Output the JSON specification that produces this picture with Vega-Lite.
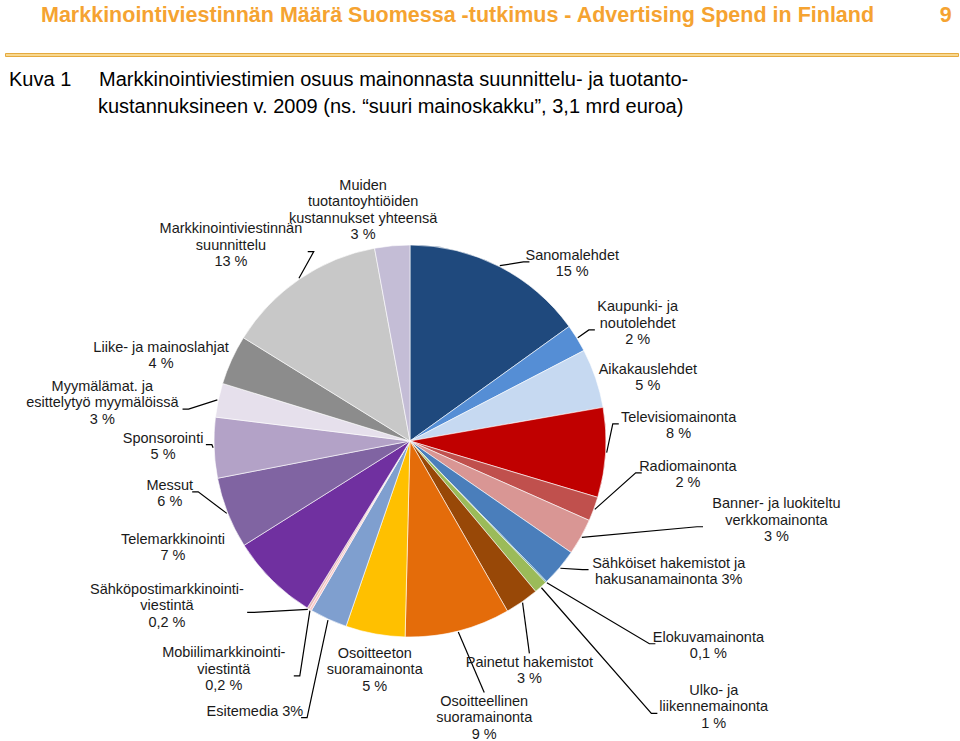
{
  "$schema": "https://vega.github.io/schema/vega-lite/v6.json",
  "padding": {"left": 4, "top": 4, "right": 0, "bottom": 0},
  "background": "white",
  "config": {"view": {"stroke": null}, "concat": {"spacing": 10}},
  "vconcat": [
    {
      "width": 953,
      "height": 3,
      "view": {"stroke": "#E5AA40", "strokeWidth": 1, "fill": "#F8D890"},
      "title": {
        "text": "Markkinointiviestinnän Määrä Suomessa -tutkimus - Advertising Spend in Finland\u00a0\u00a0\u00a0\u00a0\u00a0\u00a0\u00a0\u00a0\u00a0\u00a0\u00a09",
        "anchor": "start", "frame": "group", "dx": 36,
        "font": "Liberation Sans", "fontSize": 21.5, "fontWeight": "bold",
        "color": "#F5A331", "offset": 22
      },
      "data": {"values": [{}]},
      "mark": {"type": "text", "text": " "},
      "encoding": {}
    },
    {
      "width": 810,
      "height": 600,
      "title": {
        "text": [
          "Kuva 1\u00a0\u00a0\u00a0\u00a0 Markkinointiviestimien osuus mainonnasta suunnittelu- ja tuotanto-",
          "\u200b\u00a0\u00a0\u00a0\u00a0\u00a0\u00a0\u00a0\u00a0\u00a0\u00a0\u00a0\u00a0\u00a0\u00a0\u00a0\u00a0kustannuksineen v. 2009 (ns. “suuri mainoskakku”, 3,1 mrd euroa)"
        ],
        "anchor": "start", "frame": "group", "dx": 4,
        "font": "Liberation Sans", "fontSize": 20, "fontWeight": "normal",
        "color": "#000000", "lineHeight": 27, "offset": 24
      },
      "data": {
        "values": [
          {"cat": "Sanomalehdet", "label": "Sanomalehdet\n15 %", "value": 15.1},
          {"cat": "Kaupunki- ja noutolehdet", "label": "Kaupunki- ja\nnoutolehdet\n2 %", "value": 2.3},
          {"cat": "Aikakauslehdet", "label": "Aikakauslehdet\n5 %", "value": 4.9},
          {"cat": "Televisiomainonta", "label": "Televisiomainonta\n8 %", "value": 7.4},
          {"cat": "Radiomainonta", "label": "Radiomainonta\n2 %", "value": 2.0},
          {"cat": "Banner- ja luokiteltu verkkomainonta", "label": "Banner- ja luokiteltu\nverkkomainonta\n3 %", "value": 3.0},
          {"cat": "Sähköiset hakemistot ja hakusanamainonta", "label": "Sähköiset hakemistot ja\nhakusanamainonta 3%", "value": 3.1},
          {"cat": "Elokuvamainonta", "label": "Elokuvamainonta\n0,1 %", "value": 0.1},
          {"cat": "Ulko- ja liikennemainonta", "label": "Ulko- ja\nliikennemainonta\n1 %", "value": 1.1},
          {"cat": "Painetut hakemistot", "label": "Painetut hakemistot\n3 %", "value": 2.8},
          {"cat": "Osoitteellinen suoramainonta", "label": "Osoitteellinen\nsuoramainonta\n9 %", "value": 8.7},
          {"cat": "Osoitteeton suoramainonta", "label": "Osoitteeton\nsuoramainonta\n5 %", "value": 4.9},
          {"cat": "Esitemedia", "label": "Esitemedia 3%", "value": 3.1},
          {"cat": "Mobiilimarkkinointiviestintä", "label": "Mobiilimarkkinointi-\nviestintä\n0,2 %", "value": 0.2},
          {"cat": "Sähköpostimarkkinointiviestintä", "label": "Sähköpostimarkkinointi-\nviestintä\n0,2 %", "value": 0.2},
          {"cat": "Telemarkkinointi", "label": "Telemarkkinointi\n7 %", "value": 7.3},
          {"cat": "Messut", "label": "Messut\n6 %", "value": 5.9},
          {"cat": "Sponsorointi", "label": "Sponsorointi\n5 %", "value": 5.0},
          {"cat": "Myymälämat. ja esittelytyö myymälöissä", "label": "Myymälämat. ja\nesittelytyö myymälöissä\n3 %", "value": 2.8},
          {"cat": "Liike- ja mainoslahjat", "label": "Liike- ja mainoslahjat\n4 %", "value": 4.1},
          {"cat": "Markkinointiviestinnän suunnittelu", "label": "Markkinointiviestinnän\nsuunnittelu\n13 %", "value": 13.3},
          {"cat": "Muiden tuotantoyhtiöiden kustannukset yhteensä", "label": "Muiden\ntuotantoyhtiöiden\nkustannukset yhteensä\n3 %", "value": 2.9}
        ]
      },
      "transform": [
        {"window": [{"op": "row_number", "as": "i"}, {"op": "sum", "field": "value", "as": "cum"}]},
        {"joinaggregate": [{"op": "sum", "field": "value", "as": "tot"}]},
        {"calculate": "2*PI*(datum.cum - datum.value/2)/datum.tot", "as": "mid"},
        {"calculate": "datum.mid + [15.4,4.4,3.9,-6.6,-13.3,-17.0,-13.4,-11.5,-6.9,7.4,-0.8,-1.5,5.2,8.6,24.5,21.0,9.1,0.6,-5.0,-5.6,-8.2,-6.3][datum.i-1]*PI/180", "as": "la"},
        {"calculate": "[240,256,246,269,280,375,290,362,404,259,287,232,312,295,294,260,246,247,310,263,265,235][datum.i-1]", "as": "lr"},
        {"calculate": "split(datum.label, '\\n')", "as": "lines"},
        {"calculate": "length(datum.lines)", "as": "n"},
        {"calculate": "max(length(datum.lines[0]), length(datum.lines[1] || ''), length(datum.lines[2] || ''), length(datum.lines[3] || ''))", "as": "w"},
        {"calculate": "datum.lr*sin(datum.la)", "as": "lx"},
        {"calculate": "datum.lr*cos(datum.la)", "as": "ly"},
        {"calculate": "datum.ly + (datum.n - 1)*8.25", "as": "ty"}
      ],
      "layer": [
        {
          "mark": {"type": "arc", "radius": 196, "stroke": "#ffffff", "strokeWidth": 0.6},
          "encoding": {
            "theta": {"field": "value", "type": "quantitative", "stack": true},
            "order": {"field": "i", "type": "quantitative"},
            "color": {
              "field": "cat", "type": "nominal", "legend": null,
              "scale": {
                "domain": ["Sanomalehdet", "Kaupunki- ja noutolehdet", "Aikakauslehdet", "Televisiomainonta", "Radiomainonta", "Banner- ja luokiteltu verkkomainonta", "Sähköiset hakemistot ja hakusanamainonta", "Elokuvamainonta", "Ulko- ja liikennemainonta", "Painetut hakemistot", "Osoitteellinen suoramainonta", "Osoitteeton suoramainonta", "Esitemedia", "Mobiilimarkkinointiviestintä", "Sähköpostimarkkinointiviestintä", "Telemarkkinointi", "Messut", "Sponsorointi", "Myymälämat. ja esittelytyö myymälöissä", "Liike- ja mainoslahjat", "Markkinointiviestinnän suunnittelu", "Muiden tuotantoyhtiöiden kustannukset yhteensä"],
                "range": ["#1F497D", "#558ED5", "#C6D9F1", "#C00000", "#C0504D", "#D99694", "#4A7EBB", "#31859C", "#9BBB59", "#984807", "#E46C0A", "#FFC000", "#7F9FCF", "#F8C8C8", "#E6B9B8", "#7030A0", "#8064A2", "#B3A2C7", "#E6E0EC", "#8C8C8C", "#C8C8C8", "#C4BDD6"]
              }
            }
          }
        },
        {
          "transform": [
            {"filter": "[1,1,0,1,1,1,1,1,1,1,1,0,1,1,1,0,1,1,1,0,1,0][datum.i-1] == 1"},
            {"calculate": "abs(sin(datum.la)) < 0.47 ? 0 : (sin(datum.la) > 0 ? 1 : -1)", "as": "s"},
            {"calculate": "datum.w*3.4 + 2", "as": "hw"},
            {"calculate": "datum.s == 0 ? datum.lx : datum.lx - datum.s*datum.hw", "as": "ex"},
            {"calculate": "datum.s == 0 ? (datum.ly < 0 ? datum.ly + datum.n*8.25 + 1 : datum.ly - datum.n*8.25 - 1) : datum.ly + (datum.n == 2 ? 8.25 : 0) - 6", "as": "ey"},
            {"calculate": "[[197*sin(datum.mid), 197*cos(datum.mid), 0], [datum.ex - datum.s*6, datum.ey, 1], [datum.ex, datum.ey, 2]]", "as": "pts"},
            {"flatten": ["pts"], "as": ["pt"]},
            {"calculate": "datum.pt[0]", "as": "px"},
            {"calculate": "datum.pt[1]", "as": "py"},
            {"calculate": "datum.pt[2]", "as": "k"}
          ],
          "mark": {"type": "line", "color": "#000000", "strokeWidth": 1.2},
          "encoding": {
            "x": {"field": "px", "type": "quantitative", "scale": {"domain": [-405, 405], "nice": false, "zero": false}, "axis": null},
            "y": {"field": "py", "type": "quantitative", "scale": {"domain": [-300, 300], "nice": false, "zero": false}, "axis": null},
            "detail": {"field": "cat", "type": "nominal"},
            "order": {"field": "k", "type": "quantitative"}
          }
        },
        {
          "mark": {"type": "text", "font": "Liberation Sans", "fontSize": 14.5, "lineBreak": "\n", "lineHeight": 16.5, "align": "center", "baseline": "middle", "color": "#1A1A1A"},
          "encoding": {
            "x": {"field": "lx", "type": "quantitative", "scale": {"domain": [-405, 405], "nice": false, "zero": false}, "axis": null},
            "y": {"field": "ty", "type": "quantitative", "scale": {"domain": [-300, 300], "nice": false, "zero": false}, "axis": null},
            "text": {"field": "label", "type": "nominal"}
          }
        }
      ]
    }
  ]
}
